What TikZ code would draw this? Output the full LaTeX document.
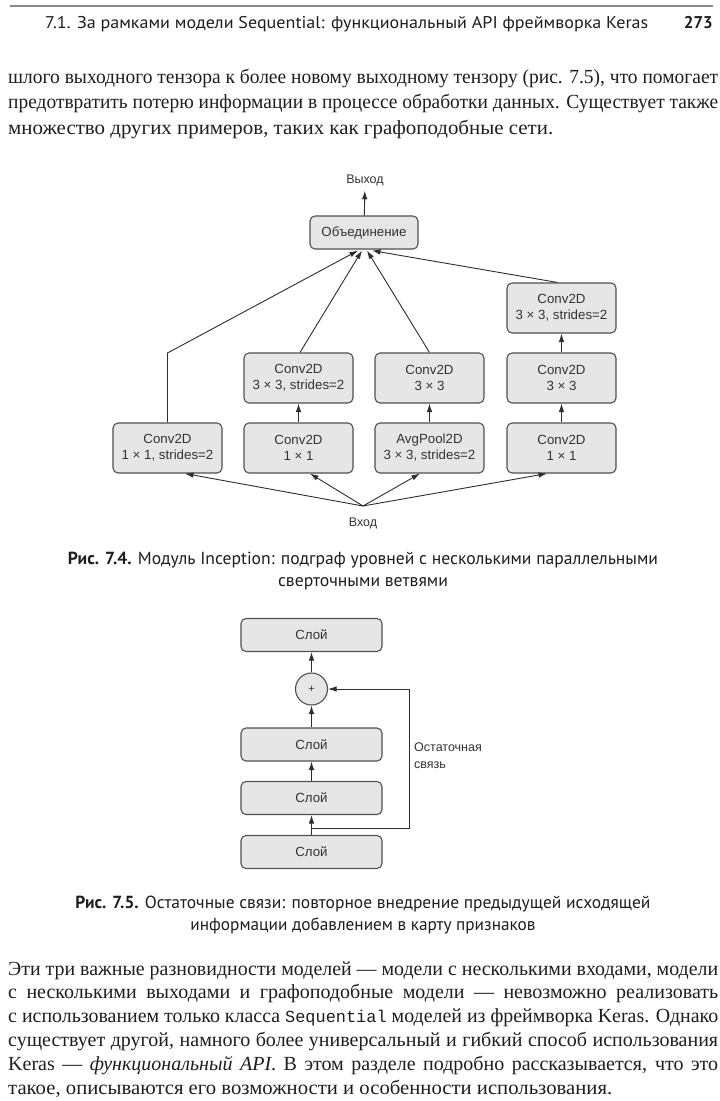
\documentclass[tikz,border=0pt]{standalone}
\usepackage{fontspec}
\usepackage{graphicx}
\setmainfont{Liberation Serif}
\newfontfamily\figfont{Liberation Sans}
\newfontfamily\capfont{PT Sans}
\newfontfamily\codefont{Liberation Mono}
\usetikzlibrary{calc,arrows.meta}
\definecolor{boxfill}{HTML}{E6E6E6}
\definecolor{boxline}{HTML}{505050}
\definecolor{arrowc}{HTML}{2E2E2E}
\definecolor{figtext}{HTML}{333333}
\definecolor{bodytext}{HTML}{1E1E1E}
\definecolor{rulegray}{HTML}{8C8C8C}
\newlength\natw
% justified line: compress if too long, else stretch spaces
\newcommand\jline[2]{\settowidth\natw{#2}\ifdim\natw>#1\relax\resizebox{#1}{\height}{#2}\else\hbox to #1{#2}\fi}
\newcommand\sline[2]{\resizebox{#1}{\height}{#2}}
\begin{document}
\begin{tikzpicture}[x=1pt,y=-1pt,
  box/.style={draw=boxline,fill=boxfill,rounded corners=5pt,line width=1.1pt,
    minimum width=109pt,minimum height=50pt,align=center,inner sep=0pt,
    font=\figfont\fontsize{13.3}{16}\selectfont,text=figtext},
  layerbox/.style={box,minimum width=141pt,minimum height=33pt},
  plusnode/.style={circle,draw=boxline,fill=boxfill,line width=1.1pt,minimum size=32pt,
    inner sep=0pt,font=\figfont\fontsize{11}{13}\selectfont,text=figtext},
  arr/.style={draw=arrowc,line width=0.9pt,-{Latex[length=8.5pt,width=5.5pt]}},
  lbl/.style={font=\figfont\fontsize{12.5}{17}\selectfont,text=figtext,inner sep=0pt},
  bodyline/.style={anchor=base west,inner sep=0pt,font=\fontsize{20}{25}\selectfont,text=bodytext},
  captext/.style={anchor=base,inner sep=0pt,font=\capfont\fontsize{17.5}{22}\selectfont,text=bodytext},
  headtext/.style={inner sep=0pt,font=\capfont\fontsize{17}{20}\selectfont,text=bodytext}]
\useasboundingbox[fill=white] (0,0) rectangle (720,1101);

% ---------- header ----------
\draw[rulegray,line width=2.5pt] (10,6) -- (713,6);
\node[headtext,anchor=base west] (htitle) at (45,28) {\sline{603pt}{7.1. За рамками модели Sequential: функциональный API фреймворка Keras}};
\node[headtext,anchor=base east] (hpage) at (713,28) {\bfseries 273};

% ---------- first paragraph ----------
\node[bodyline] (p1) at (8,83) {\jline{710pt}{шлого выходного тензора к более новому выходному тензору (рис. 7.5), что помогает}};
\node[bodyline] (p2) at (8,108.5) {\jline{710pt}{предотвратить потерю информации в процессе обработки данных. Существует также}};
\node[bodyline] (p3) at (8,134) {\sline{545pt}{множество других примеров, таких как графоподобные сети.}};

% ---------- Figure 7.4 ----------
\node[lbl] (out) at (365,180) {Выход};
\node[box,minimum width=108pt,minimum height=33pt] (merge) at (364,232.5) {Объединение};

\node[box] (t4) at (561.5,308) {Conv2D\\3 × 3, strides=2};
\node[box] (m2) at (298.5,378) {Conv2D\\3 × 3, strides=2};
\node[box] (m3) at (429.5,378) {Conv2D\\3 × 3};
\node[box] (m4) at (561.5,378) {Conv2D\\3 × 3};
\node[box] (b1) at (167.5,448) {Conv2D\\1 × 1, strides=2};
\node[box] (b2) at (298.5,448) {Conv2D\\1 × 1};
\node[box] (b3) at (429.5,448) {AvgPool2D\\3 × 3, strides=2};
\node[box] (b4) at (561.5,448) {Conv2D\\1 × 1};

\coordinate (in) at (363,506);
\node[lbl] (inlbl) at (363,523) {Вход};

\draw[arr,shorten >=5pt] (merge) -- (out);
\draw[arr] (in) -- ($(b1.south)+(17.5,0)$);
\draw[arr] (in) -- ($(b2.south)+(11.5,0)$);
\draw[arr] (in) -- ($(b3.south)+(-9.5,0)$);
\draw[arr] (in) -- ($(b4.south)+(-14.5,0)$);

\draw[arr] (b2) -- (m2);
\draw[arr] (b3) -- (m3);
\draw[arr] (b4) -- (m4);
\draw[arr] (m4) -- (t4);

\coordinate (bend) at (167.5,353);
\draw[arr] (b1.north) -- (bend) -- ($(merge.south)+(-6,1)$);
\draw[arr] ($(m2.north)+(1.5,0)$) -- ($(merge.south)+(-2,1)$);
\draw[arr] (m3.north) -- ($(merge.south)+(3,1)$);
\draw[arr] ($(t4.north)+(-4,0)$) -- ($(merge.south)+(8,1)$);

\node[captext] (cap4a) at (363,564) {\sline{590pt}{\textbf{Рис. 7.4.} Модуль Inception: подграф уровней с несколькими параллельными}};
\node[captext] (cap4b) at (363,586) {\sline{170pt}{сверточными ветвями}};

% ---------- Figure 7.5 ----------
\node[layerbox] (l1) at (311.5,635) {Слой};
\node[plusnode] (plus) at (311.5,689) {+};
\node[layerbox] (l2) at (311.5,744.5) {Слой};
\node[layerbox] (l3) at (311.5,798) {Слой};
\node[layerbox] (l4) at (311.5,852) {Слой};

\draw[arr] (l4) -- (l3);
\draw[arr] (l3) -- (l2);
\draw[arr] (l2) -- (plus);
\draw[arr] (plus) -- (l1);

\coordinate (rs) at (311.5,828);
\coordinate (rc) at (409,828);
\draw[arr] (rs) -- (rc) |- (plus.east);
\node[lbl,anchor=west,align=left] (rlbl) at (414,755.5) {Остаточная\\связь};

\node[captext] (cap5a) at (363,908) {\sline{575pt}{\textbf{Рис. 7.5.} Остаточные связи: повторное внедрение предыдущей исходящей}};
\node[captext] (cap5b) at (363,930) {\sline{345pt}{информации добавлением в карту признаков}};

% ---------- second paragraph ----------
\node[bodyline] (q1) at (8,975) {\jline{710pt}{Эти три важные разновидности моделей — модели с несколькими входами, модели}};
\node[bodyline] (q2) at (8,998.8) {\jline{710pt}{с несколькими выходами и графоподобные модели — невозможно реализовать}};
\node[bodyline] (q3) at (8,1022.6) {\jline{710pt}{с использованием только класса {\codefont\fontsize{17}{20}\selectfont Sequential} моделей из фреймворка Keras. Однако}};
\node[bodyline] (q4) at (8,1046.4) {\jline{710pt}{существует другой, намного более универсальный и гибкий способ использования}};
\node[bodyline] (q5) at (8,1070.2) {\jline{710pt}{Keras — \textit{функциональный API}. В этом разделе подробно рассказывается, что это}};
\node[bodyline] (q6) at (8,1094) {\sline{604pt}{такое, описываются его возможности и особенности использования.}};
\end{tikzpicture}
\end{document}
